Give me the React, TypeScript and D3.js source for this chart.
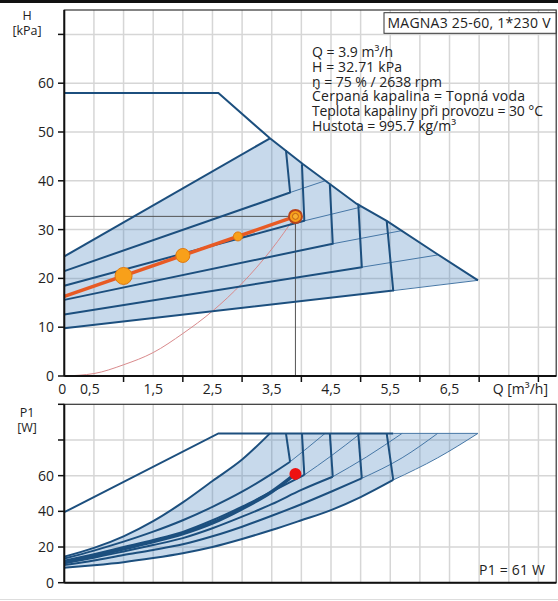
import React from "react";
import * as d3 from "d3";

// axis ticks and labels
const qLabelValues = [0, 0.5, 1.5, 2.5, 3.5, 4.5, 5.5, 6.5];
const qLabels = ["0", "0,5", "1,5", "2,5", "3,5", "4,5", "5,5", "6,5"];
const qTicks = [1, 2, 3, 4, 5, 6, 7, 8];
const hTicks = [0, 10, 20, 30, 40, 50, 60, 70];
const hLabels = ["0", "10", "20", "30", "40", "50", "60", ""];
const pTicks = [0, 20, 40, 60, 80, 100];
const pLabels = ["0", "20", "40", "60", "", ""];

// head chart: max curve (H, kPa)
const maxCurveQ = [0, 2.6, 3.47, 4.03, 4.93, 5.44, 6.29, 6.98];
const maxCurveH = [58, 58, 48.7, 43.4, 35.3, 31.8, 25.0, 19.6];

// control curves A..F: start head, knee, drop to max curve, thin extension
const curveStartH = [24.5, 21.5, 18.5, 15.6, 12.6, 9.8];
const kneeQ = [3.47, 3.81, 4.05, 4.53, 5.02, 5.55];
const kneeH = [48.7, 37.6, 31.8, 27.1, 22.3, 17.5];
const dropQ = [3.74, 4.01, 4.48, 4.96, 5.44];
const dropH = [46.3, 43.4, 39.3, 35.3, 31.8];
const extQ = [4.4, 5.0, 5.7, 6.3, 6.98];
const extH = [40.0, 34.6, 29.8, 24.8, 19.6];

// duty point curve
const dutyQ = [0, 3.9];
const dutyH = [16.3, 32.71];
const markQ = [1.0, 2.0, 2.93];
const markH = [20.5, 24.7, 28.6];
const markR = [8.5, 7, 4.5];
const opQ = 3.9;
const opH = 32.71;
const opP = 61;

// system curve
const systemQ = [0, 0.5, 1, 1.5, 2, 2.5, 3, 3.5, 3.9];
const systemH = [0, 0.5, 2.3, 4.8, 8.7, 13.3, 19.0, 26.0, 32.71];

// power chart (P1, W)
const powerMaxQ = [0, 2.6, 5.55];
const powerMaxP = [39.5, 83.7, 83.7];
const powerTopP = 83.7;
const powerQ = [
  [0, 0.5, 1, 1.5, 2, 2.5, 3, 3.47],
  [0, 0.5, 1, 1.5, 2, 2.5, 3, 3.5, 3.81],
  [0, 0.5, 1, 1.5, 2, 2.5, 3, 3.5, 4.05],
  [0, 0.5, 1, 1.5, 2, 2.5, 3, 3.5, 4, 4.53],
  [0, 0.5, 1, 1.5, 2, 2.5, 3, 3.5, 4, 4.5, 5.02],
  [0, 0.5, 1, 1.5, 2, 2.5, 3, 3.5, 4, 4.5, 5, 5.55],
];
const powerP = [
  [14.6, 19.5, 26, 34.5, 45, 57, 69, 83.7],
  [13.5, 18, 23, 28.6, 35, 42.5, 51, 61, 67.8],
  [12.3, 16, 20, 24, 28.5, 35, 42.6, 51, 60.4],
  [10.9, 14, 17.5, 21.1, 25, 30.5, 37, 44, 52, 59.4],
  [9.9, 12.5, 15.5, 18.3, 21.5, 26, 31.4, 37.5, 44, 51, 58.5],
  [8.4, 9.8, 11.5, 13.8, 16.5, 20, 24.5, 29.5, 35, 40.7, 48, 57.6],
];
const powerKneeP = [67.8, 60.4, 59.4, 58.5, 57.6];
const powerExtMidQ = [4.1, 4.5, 5.1, 5.7, 6.3];
const powerExtMidP = [75.5, 71, 70.5, 70, 70];
const dutyPowerQ = [0, 0.5, 1, 1.5, 2, 2.5, 3, 3.5, 3.9];
const dutyPowerP = [11.5, 15, 19, 23, 27.5, 33.5, 41.5, 51, 61];

const infoLines = [
  "Q = 3.9 m³/h",
  "H = 32.71 kPa",
  "n = 75 % / 2638 rpm",
  "Čerpaná kapalina = Topná voda",
  "Teplota kapaliny při provozu = 30 °C",
  "Hustota = 995.7 kg/m³",
];
// rendered widths of the info lines in the reference (px)
const infoWidths = [81, 90, 130, 213, 231, 144];

const FONT = "'Open Sans', 'Noto Sans', sans-serif";
const BLUE = "#1c4f7e";
const THIN = "#4677a6";
const GRID = "#d6d6d6";

type Pt = [number, number];
const zip = (a: number[], b: number[]): Pt[] => a.map((v, i) => [v, b[i]]);

export default function App() {
  const x = d3.scaleLinear().domain([0, 8.3]).range([64.3, 556.2]);
  const yH = d3.scaleLinear().domain([0, 75]).range([376, 10]);
  const yP = d3.scaleLinear().domain([0, 100]).range([582.7, 404.3]);

  const hLine = d3.line<Pt>().x(d => x(d[0])).y(d => yH(d[1]));
  const pLine = d3.line<Pt>().x(d => x(d[0])).y(d => yP(d[1])).curve(d3.curveMonotoneX);
  const pLinear = d3.line<Pt>().x(d => x(d[0])).y(d => yP(d[1]));
  const sysLine = d3.line<Pt>().x(d => x(d[0])).y(d => yH(d[1])).curve(d3.curveMonotoneX);

  // head fill polygon
  const headPoly: Pt[] = [[0, curveStartH[0]], ...zip(maxCurveQ, maxCurveH).slice(2), [0, curveStartH[5]]];

  // power fill polygon
  const fExt: Pt[] = [[kneeQ[5], powerKneeP[4]], [powerExtMidQ[4], powerExtMidP[4]], [extQ[4], powerTopP]];
  const topPath = pLine(zip(powerQ[0], powerP[0])) || "";
  const bottomPts = [...zip(powerQ[5], powerP[5]), ...fExt.slice(1)].reverse();
  const bottomPath = (pLine(bottomPts) || "").replace(/^M/, "L");
  const powerFill = topPath + `L${x(extQ[4])},${yP(powerTopP)}` + bottomPath + "Z";

  const vGrid = d3.range(0.5, 8.01, 0.5);

  return (
    <svg width={558} height={601} style={{ position: "absolute", left: 0, top: 0, background: "#fff" }}
      fontFamily={FONT}>
      <rect x={0} y={0} width={558} height={3} fill="#111" />
      <line x1={0} x2={558} y1={599.5} y2={599.5} stroke="#ddd" />

      {/* grids */}
      {vGrid.map(q => (
        <g key={"vg" + q}>
          <line x1={x(q)} x2={x(q)} y1={10} y2={376} stroke={GRID} strokeWidth={1.5} />
          <line x1={x(q)} x2={x(q)} y1={404.3} y2={582.7} stroke={GRID} strokeWidth={1.5} />
        </g>
      ))}
      {hTicks.slice(1).map(h => (
        <line key={"hg" + h} x1={64.3} x2={556.2} y1={yH(h)} y2={yH(h)} stroke={GRID} strokeWidth={1.5} />
      ))}
      {pTicks.slice(1, 5).map(p => (
        <line key={"pg" + p} x1={64.3} x2={556.2} y1={yP(p)} y2={yP(p)} stroke={GRID} strokeWidth={1.5} />
      ))}

      {/* ---- head chart ---- */}
      <path d={hLine(headPoly) + "Z"} fill="rgba(70,130,190,0.3)" stroke="none" />
      {extQ.map((q, i) => (
        <path key={"hx" + i} d={hLine([[kneeQ[i + 1], kneeH[i + 1]], [q, extH[i]]]) || ""}
          fill="none" stroke={THIN} strokeWidth={1} />
      ))}
      <path d={sysLine(zip(systemQ, systemH)) || ""} fill="none" stroke="#d98a8c" strokeWidth={1} />
      <path d={hLine([[0, opH], [opQ, opH], [opQ, 0]]) || ""} fill="none" stroke="#555" strokeWidth={1} />
      {curveStartH.map((h0, i) => (
        <path key={"hc" + i}
          d={hLine(i === 0 ? [[0, h0], [kneeQ[0], kneeH[0]]]
            : [[0, h0], [kneeQ[i], kneeH[i]], [dropQ[i - 1], dropH[i - 1]]]) || ""}
          fill="none" stroke={BLUE} strokeWidth={2} strokeLinejoin="round" />
      ))}
      <path d={hLine(zip(maxCurveQ, maxCurveH)) || ""} fill="none" stroke={BLUE} strokeWidth={2} />
      <path d={hLine(zip(dutyQ, dutyH)) || ""} fill="none" stroke="#e85a24" strokeWidth={3.5} />
      {markQ.map((q, i) => (
        <circle key={"mk" + i} cx={x(q)} cy={yH(markH[i])} r={markR[i]} fill="#f8a01a" stroke="#e0780e" strokeWidth={1} />
      ))}
      <circle cx={x(opQ)} cy={yH(opH)} r={6.5} fill="#f8a01a" stroke="#b8451c" strokeWidth={2} />
      <circle cx={x(opQ)} cy={yH(opH)} r={3} fill="#f8b030" stroke="#c06018" strokeWidth={1} />

      {/* ---- power chart ---- */}
      <path d={powerFill} fill="rgba(70,130,190,0.3)" stroke="none" />
      <path d={pLine(fExt) || ""} fill="none" stroke={THIN} strokeWidth={1} />
      <path d={pLinear([[kneeQ[5], powerTopP], [extQ[4], powerTopP]]) || ""} fill="none" stroke={THIN} strokeWidth={1} />
      {powerExtMidQ.slice(0, 4).map((q, i) => (
        <path key={"px" + i}
          d={pLine([[kneeQ[i + 1], powerKneeP[i]], [q, powerExtMidP[i]], [extQ[i], powerTopP]]) || ""}
          fill="none" stroke={THIN} strokeWidth={1} />
      ))}
      {powerQ.map((qs, i) => (
        <path key={"pc" + i} d={pLine(zip(qs, powerP[i])) || ""} fill="none" stroke={BLUE} strokeWidth={2} />
      ))}
      {dropQ.map((q, i) => (
        <path key={"pd" + i} d={pLinear([[kneeQ[i + 1], powerKneeP[i]], [q, powerTopP]]) || ""}
          fill="none" stroke={BLUE} strokeWidth={2} />
      ))}
      <path d={pLinear(zip(powerMaxQ, powerMaxP)) || ""} fill="none" stroke={BLUE} strokeWidth={2} />
      <path d={pLine(zip(dutyPowerQ, dutyPowerP)) || ""} fill="none" stroke={BLUE} strokeWidth={3.5} />
      <circle cx={x(opQ)} cy={yP(opP)} r={6} fill="#ee1111" />

      {/* frames and axes */}
      <rect x={64.3} y={10} width={556.2 - 64.3} height={366} fill="none" stroke="#333" strokeWidth={1.2} />
      <rect x={64.3} y={404.3} width={556.2 - 64.3} height={582.7 - 404.3} fill="none" stroke="#333" strokeWidth={1.2} />
      <line x1={64.3} x2={64.3} y1={10} y2={376} stroke="#111" strokeWidth={2} />
      <line x1={64.3} x2={556.2} y1={376} y2={376} stroke="#111" strokeWidth={2} />
      <line x1={64.3} x2={64.3} y1={404.3} y2={582.7} stroke="#111" strokeWidth={2} />
      <line x1={64.3} x2={556.2} y1={582.7} y2={582.7} stroke="#111" strokeWidth={2} />

      {hTicks.map((h, i) => (
        <g key={"ht" + h}>
          <line x1={58} x2={64.3} y1={yH(h)} y2={yH(h)} stroke="#111" strokeWidth={1.5} />
          <text x={54} y={yH(h)} dy="0.35em" textAnchor="end" fontSize={14} fill="#222">{hLabels[i]}</text>
        </g>
      ))}
      {pTicks.map((p, i) => (
        <g key={"pt" + p}>
          <line x1={58} x2={64.3} y1={yP(p)} y2={yP(p)} stroke="#111" strokeWidth={1.5} />
          <text x={54} y={yP(p)} dy="0.35em" textAnchor="end" fontSize={14} fill="#222">{pLabels[i]}</text>
        </g>
      ))}
      {qTicks.map(q => (
        <line key={"qt" + q} x1={x(q)} x2={x(q)} y1={376} y2={382} stroke="#111" strokeWidth={1.5} />
      ))}
      {qLabelValues.map((q, i) => (
        <text key={"ql" + q} x={x(q) + (q === 0 ? -2 : q === 0.5 ? -4 : 0)} y={394}
          textAnchor="middle" fontSize={14} fill="#222">{qLabels[i]}</text>
      ))}
      <text x={548} y={394} textAnchor="end" fontSize={14} fill="#222">Q [m³/h]</text>

      <text x={27} y={20} textAnchor="middle" fontSize={12.5} fill="#222">H</text>
      <text x={27} y={34.5} textAnchor="middle" fontSize={12.5} fill="#222">[kPa]</text>
      <text x={27} y={417} textAnchor="middle" fontSize={12.5} fill="#222">P1</text>
      <text x={27} y={431.5} textAnchor="middle" fontSize={12.5} fill="#222">[W]</text>

      <rect x={384} y={12.7} width={172} height={20.6} fill="#fff" stroke="#333" strokeWidth={1} />
      <text x={387.5} y={28} fontSize={14} textLength={163} lengthAdjust="spacing" fill="#222">MAGNA3 25-60, 1*230 V</text>
      {infoLines.map((t, i) => (
        <text key={"il" + i} x={312} y={57 + i * 14.8} fontSize={14} textLength={infoWidths[i]}
          lengthAdjust="spacing" fill="#222">{t}</text>
      ))}
      <text x={479} y={575} fontSize={14} textLength={66} lengthAdjust="spacing" fill="#222">P1 = 61 W</text>
    </svg>
  );
}
